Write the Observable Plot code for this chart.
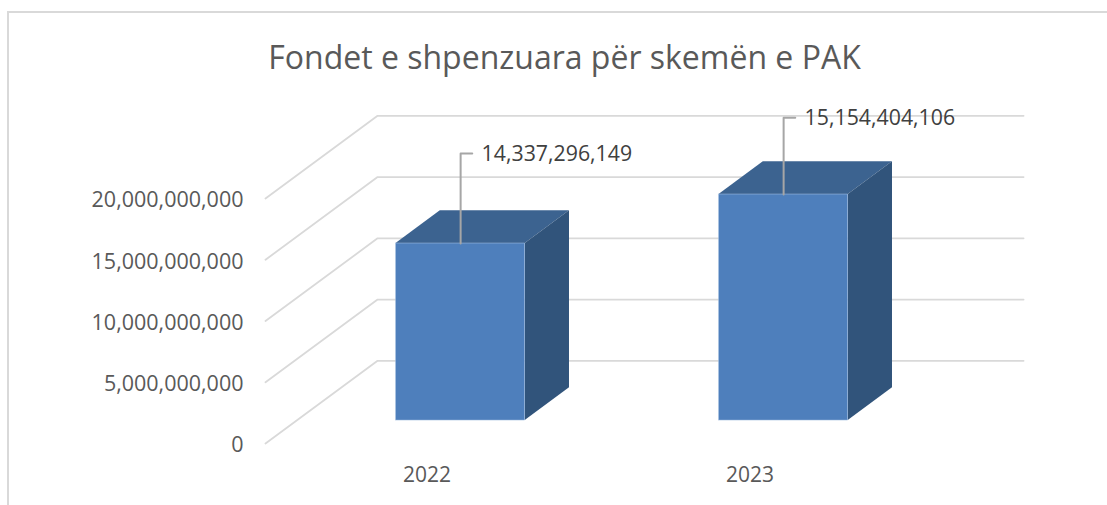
<!DOCTYPE html>
<html>
<head>
<meta charset="utf-8">
<script src="https://cdn.jsdelivr.net/npm/d3@7"></script>
<script src="https://cdn.jsdelivr.net/npm/@observablehq/plot@0.6"></script>
<style>
  html, body { margin: 0; padding: 0; background: #fff; overflow: hidden; }
  #chart { position: relative; width: 1107px; height: 505px; }
  #chart::before { content: ""; position: absolute; left: 7px; top: 11px; right: 0; bottom: 0;
    border-left: 2px solid #d9d9d9; border-top: 2px solid #d9d9d9; }
  #chart svg { position: absolute; left: 0; top: 0; background: transparent; }
</style>
</head>
<body>
<div id="chart"></div>
<script>
const titleText = "Fondet e shpenzuara për skemën e PAK";
const categories = ["2022", "2023"];
const barHeights = [14450000000, 18450000000];      // drawn heights of the bars, as pictured
const barLabels = ["14,337,296,149", "15,154,404,106"];
const leaderTops = [23670000000, 26600000000];      // value level at which each leader bends
const valueTicks = [0, 5000000000, 10000000000, 15000000000, 20000000000];

// pseudo-3D depth: how far the back wall sits from the front plane, in scale units
const depthX = 0.347, depthY = 6750000000;
const barFront = 0.3, barBack = 0.695, barHalfWidth = 0.2, barSink = -150000000;
const slots = categories.map((c, i) => i + 0.5);
const stubLength = 0.036, labelGap = 0.065;

const fx = (x, d) => x + d * depthX;
const fy = (v, d) => v + d * depthY;

const grid = valueTicks.flatMap(v => [
  {v, x: fx(0, 0), y: fy(v, 0)},
  {v, x: fx(0, 1), y: fy(v, 1)},
  {v, x: fx(2, 1), y: fy(v, 1)}
]);
const bars = categories.map((c, i) => ({
  c, cx: slots[i], v: barHeights[i], label: barLabels[i], top: leaderTops[i]
}));
const sides = bars.flatMap(b => [barFront, barBack].map(d => ({
  c: b.c,
  x: fx(b.cx + barHalfWidth, d), y1: fy(barSink, d), y2: fy(b.v + barSink, d)
})));
const tops = bars.flatMap(b => [barFront, barBack].map(d => ({
  c: b.c,
  y: fy(b.v + barSink, d), x1: fx(b.cx - barHalfWidth, d), x2: fx(b.cx + barHalfWidth, d)
})));
const leaders = bars.flatMap(b => [
  {c: b.c, x: fx(b.cx, barFront), y: fy(b.v + barSink, barFront)},
  {c: b.c, x: fx(b.cx, barFront), y: b.top},
  {c: b.c, x: fx(b.cx, barFront) + stubLength, y: b.top}
]);

const font = "'Open Sans', 'Noto Sans', sans-serif";

const plot = Plot.plot({
  width: 1107,
  height: 505,
  marginLeft: 265,
  marginRight: 196,
  marginTop: 198,
  marginBottom: 62,
  style: {fontFamily: font, background: "transparent"},
  x: {domain: [0, 2], axis: null},
  y: {domain: [0, 20000000000], axis: null},
  marks: [
    Plot.line(grid, {x: "x", y: "y", z: "v", stroke: "#d9d9d9", strokeWidth: 1.8, curve: "linear"}),
    Plot.axisY({ticks: valueTicks, tickSize: 0, tickPadding: 22, tickFormat: d3.format(","),
      fontSize: 21.5, dy: 2, fill: "#595959", label: null, anchor: "left"}),
    Plot.text(categories, {x: (d, i) => slots[i], frameAnchor: "bottom", dy: 38,
      text: d => d, fontSize: 21, fill: "#595959"}),
    Plot.areaX(tops, {y: "y", x1: "x1", x2: "x2", z: "c", fill: "#3c6390", curve: "linear"}),
    Plot.areaY(sides, {x: "x", y1: "y1", y2: "y2", z: "c", fill: "#31547b", curve: "linear"}),
    Plot.rect(bars, {
      x1: d => fx(d.cx - barHalfWidth, barFront), x2: d => fx(d.cx + barHalfWidth, barFront),
      y1: d => fy(barSink, barFront), y2: d => fy(d.v + barSink, barFront),
      fill: "#4e7fbc", stroke: "#a9c3e3", strokeWidth: 0.5, inset: 0
    }),
    Plot.line(leaders, {x: "x", y: "y", z: "c", stroke: "#a6a6a6", strokeWidth: 2, curve: "linear"}),
    Plot.text(bars, {
      x: d => fx(d.cx, barFront) + labelGap,
      y: "top", text: "label", textAnchor: "start", dy: 1,
      fontSize: 21.3, fill: "#404040"
    }),
    Plot.text([titleText], {frameAnchor: "top", dx: -24, dy: -152, text: d => d,
      fontSize: 32, fill: "#595959"})
  ]
});
document.getElementById("chart").appendChild(plot);
</script>
</body>
</html>
